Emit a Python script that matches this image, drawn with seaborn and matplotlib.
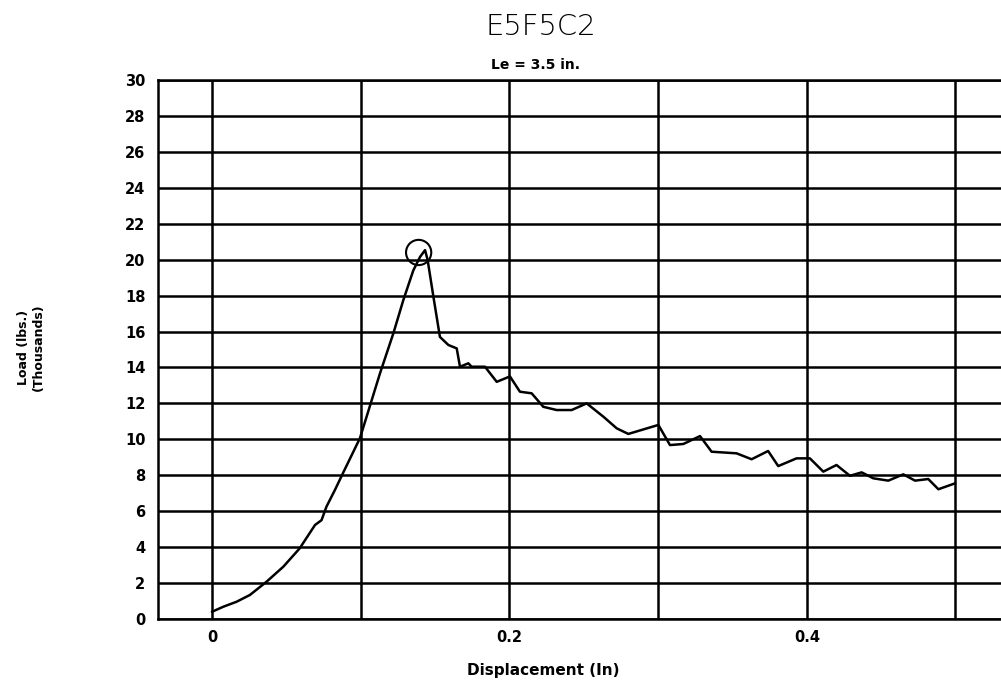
import numpy as np
import pandas as pd
import seaborn as sns
import matplotlib.pyplot as plt
from matplotlib.ticker import MultipleLocator, FixedLocator

# load-displacement readings (displacement in, load in thousands of lbs)
displacement = [0.000, 0.0076, 0.0166, 0.0256, 0.0368, 0.048, 0.059, 0.0693, 0.0737,
                0.077, 0.0827, 0.088, 0.0995,
                0.104, 0.113, 0.122, 0.1287, 0.1354, 0.140, 0.1433, 0.145, 0.149,
                0.1533, 0.159, 0.1646, 0.1668, 0.1724, 0.1746, 0.1836, 0.1915, 0.2004,
                0.2071, 0.215, 0.2228, 0.2318, 0.2419, 0.252, 0.2632, 0.2722, 0.280,
                0.3002, 0.308, 0.317, 0.3282, 0.336, 0.3528, 0.3629, 0.374, 0.3808,
                0.3931, 0.4021, 0.4111, 0.420, 0.429, 0.4369, 0.4447, 0.4548, 0.4649,
                0.4728, 0.4817, 0.4885, 0.4997]
load = [0.4, 0.68, 0.96, 1.34, 2.08, 2.91, 3.93, 5.23, 5.5,
        6.25, 7.18, 8.1, 10.06,
        11.26, 13.67, 15.9, 17.75, 19.4, 20.16, 20.53, 20.0, 17.9,
        15.7, 15.25, 15.06, 14.04, 14.23, 14.04, 14.04, 13.2, 13.5,
        12.65, 12.56, 11.81, 11.63, 11.63, 12.0, 11.26, 10.61, 10.3,
        10.8, 9.68, 9.74, 10.18, 9.31, 9.22, 8.89, 9.35, 8.51,
        8.94, 8.94, 8.2, 8.57, 7.97, 8.16, 7.83, 7.70, 8.05,
        7.70, 7.79, 7.22, 7.55]

peak_disp = [0.139]
peak_load = [20.4]

x_labels = ["0", "0.2", "0.4"]
y_ticks = list(range(0, 31, 2))

df = pd.DataFrame({"Displacement": displacement, "Load": load})

sns.set_style("white")
plt.rcParams['font.family'] = ['DejaVu Sans']
plt.rcParams['text.color'] = 'black'
plt.rcParams['xtick.color'] = 'black'
plt.rcParams['ytick.color'] = 'black'

fig = plt.figure(figsize=(10.01, 6.86), dpi=100)
ax = fig.add_axes([0.1578, 0.0977, 0.8422, 0.7857])

sns.lineplot(data=df, x="Displacement", y="Load", ax=ax, color="black",
             linewidth=1.8, sort=False, estimator=None)
ax.scatter(peak_disp, peak_load, s=330, facecolors="none", edgecolors="black",
           linewidths=1.5, zorder=5)

ax.set_xlim(-0.0363, 0.5306)
ax.set_ylim(0, 30)

ax.xaxis.set_major_locator(FixedLocator([0, 0.2, 0.4]))
ax.xaxis.set_minor_locator(MultipleLocator(0.1))
ax.set_xticklabels(x_labels)
ax.set_yticks(y_ticks)
ax.set_yticklabels([str(v) for v in y_ticks])

ax.grid(True, which="both", color="black", linewidth=1.8)
ax.set_axisbelow(True)
ax.tick_params(which="both", length=0)
ax.tick_params(axis="y", pad=9, labelsize=10.5, labelcolor="black")
ax.tick_params(axis="x", pad=8, labelsize=10.5, labelcolor="black")
for lab in ax.get_xticklabels() + ax.get_yticklabels():
    lab.set_fontweight("bold")

for side in ["left", "top", "bottom"]:
    ax.spines[side].set_color("black")
    ax.spines[side].set_linewidth(1.8)
ax.spines["right"].set_visible(False)

ax.set_xlabel("")
ax.set_ylabel("")

fig.text(0.540, 1 - 27 / 686, "E5F5C2", ha="center", va="center",
         fontsize=21, fontweight="light", color="black")
fig.text(0.535, 1 - 65 / 686, "Le = 3.5 in.", ha="center", va="center",
         fontsize=10, fontweight="bold", color="black")
fig.text(0.543, 1 - 670 / 686, "Displacement (In)", ha="center", va="center",
         fontsize=11, fontweight="bold", color="black")
fig.text(31 / 1001, 1 - 347 / 686, "Load (lbs.)\n(Thousands)", ha="center",
         va="center", rotation=90, fontsize=9, fontweight="bold",
         multialignment="center", color="black")

fig.savefig("out.png", dpi=100)
